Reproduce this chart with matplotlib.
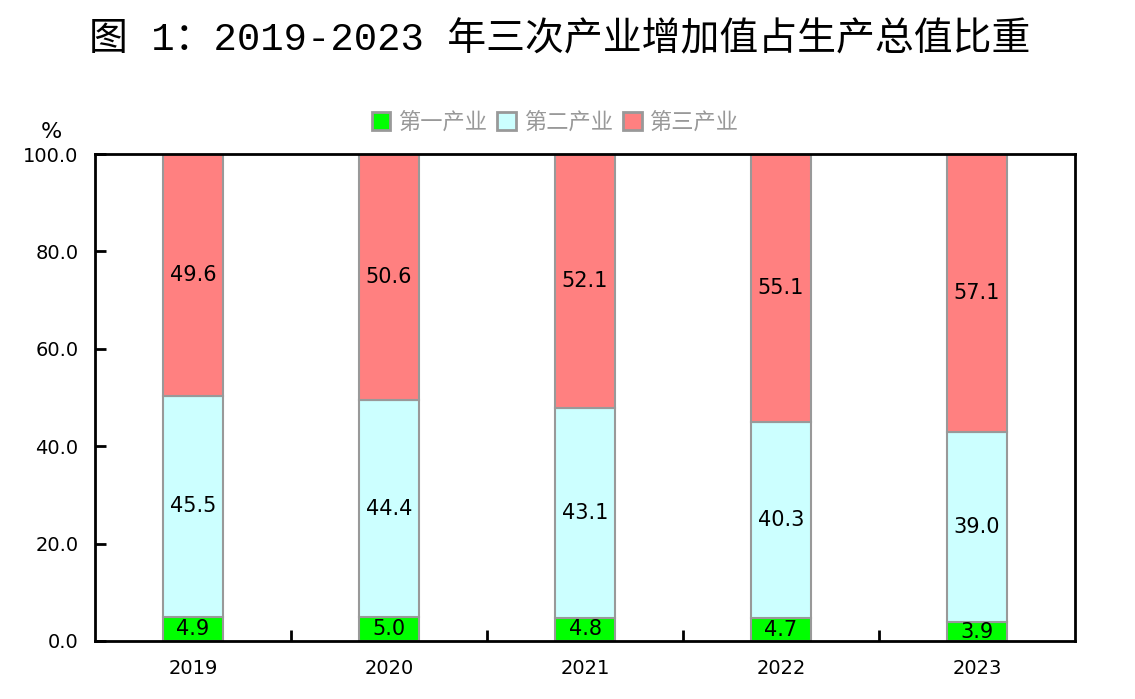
import matplotlib
matplotlib.use("Agg")
import matplotlib.pyplot as plt
import numpy as np
from matplotlib.patches import Patch

years = ["2019", "2020", "2021", "2022", "2023"]
primary = [4.9, 5.0, 4.8, 4.7, 3.9]
secondary = [45.5, 44.4, 43.1, 40.3, 39.0]
tertiary = [49.6, 50.6, 52.1, 55.1, 57.1]
series_names = ["第一产业", "第二产业", "第三产业"]
colors = ["#00FF00", "#CCFFFF", "#FF8080"]
edge = "#999999"

plt.rcParams["font.family"] = ["DejaVu Sans", "Noto Sans CJK SC"]

fig = plt.figure(figsize=(11.35, 6.99), dpi=100)
ax = fig.add_axes([95 / 1135, 1 - 641 / 699, 980 / 1135, 487 / 699])

x = np.arange(len(years))
width = 0.31
bottom = np.zeros(len(years))
for vals, c in zip([primary, secondary, tertiary], colors):
    vals = np.array(vals)
    ax.bar(x, vals, width, bottom=bottom, color=c, edgecolor=edge, linewidth=1.5, zorder=2)
    for xi, b, v in zip(x, bottom, vals):
        ax.text(xi, b + v / 2, f"{v:.1f}", ha="center", va="center", fontsize=15, color="black", zorder=3)
    bottom = bottom + vals

ax.set_xlim(-0.5, len(years) - 0.5)
ax.set_ylim(0, 100)
ax.set_yticks(np.arange(0, 101, 20))
ax.set_yticklabels([f"{v:.1f}" for v in np.arange(0, 101, 20)], fontsize=14)
ax.set_xticks(x)
ax.set_xticklabels(years, fontsize=14)
ax.tick_params(axis="x", length=0, pad=13)
ax.set_xticks(np.arange(0.5, len(years) - 0.5, 1), minor=True)
ax.tick_params(axis="x", which="minor", direction="in", length=8, width=2)
ax.tick_params(axis="y", direction="in", length=8, width=2, pad=12)
for s in ax.spines.values():
    s.set_linewidth(2)

ax.text(-0.045, 1.025, "%", transform=ax.transAxes, fontsize=16, ha="center", va="bottom")

handles = [Patch(facecolor=c, edgecolor=edge, linewidth=2) for c in colors]
leg = fig.legend(handles, series_names, loc="center", bbox_to_anchor=(555 / 1135, 1 - 122 / 699),
                 ncol=3, frameon=False, handlelength=0.85, handleheight=0.85,
                 handletextpad=0.35, columnspacing=0.45,
                 prop={"family": ["Noto Sans CJK SC"], "size": 16})
for t in leg.get_texts():
    t.set_color("#999999")

fig.text(560 / 1135, 1 - 40 / 699, "图 1：2019-2023 年三次产业增加值占生产总值比重",
         ha="center", va="center", fontsize=28,
         family=["Liberation Mono", "Noto Sans CJK SC"])

fig.savefig("out.png", dpi=100)
